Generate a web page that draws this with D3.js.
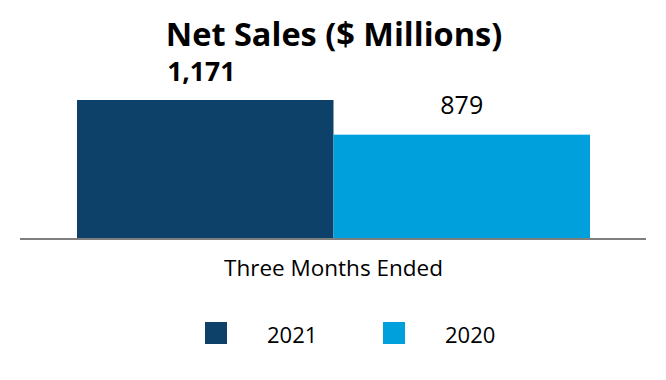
<!DOCTYPE html>
<html><head><meta charset="utf-8">
<script src="https://cdn.jsdelivr.net/npm/d3@7"></script>
<style>body{margin:0;background:#fff}svg{display:block;font-family:"Open Sans",sans-serif}</style>
</head><body><svg id="c" width="666" height="380"></svg>
<script>
const title = "Net Sales ($ Millions)";
const category = "Three Months Ended";
const seriesNames = ["2021", "2020"];
const seriesValues = [1171, 879];
const seriesLabels = ["1,171", "879"];
const seriesColors = ["#0e4169", "#00a0dc"];

const svg = d3.select("#c");
const x = d3.scaleBand().domain(seriesNames).range([77, 590]).paddingInner(0).paddingOuter(0);
const y = d3.scaleLinear().domain([0, 1171]).range([239, 100]);

svg.append("text").attr("x", 334).attr("y", 46).attr("text-anchor", "middle")
  .attr("font-size", 32.5).attr("font-weight", "bold").attr("fill", "#000").text(title);

svg.selectAll("rect.bar").data(seriesNames).enter().append("rect").attr("class","bar")
  .attr("x", d => x(d)).attr("width", x.bandwidth())
  .attr("y", (d,i) => y(seriesValues[i])).attr("height", (d,i) => y(0) - y(seriesValues[i]))
  .attr("fill", (d,i) => seriesColors[i]);

svg.selectAll("text.val").data(seriesNames).enter().append("text").attr("class","val")
  .attr("x", d => x(d) + x.bandwidth()/2 - (d==="2021"?4:0))
  .attr("y", (d,i) => y(seriesValues[i]) - (i===0 ? 19 : 21))
  .attr("text-anchor", "middle").attr("font-size", (d,i) => i===0 ? 26.5 : 25)
  .attr("font-weight", (d,i) => i===0 ? "bold" : "normal")
  .attr("fill", "#000").text((d,i) => seriesLabels[i]);

svg.append("line").attr("x1", 20).attr("x2", 646).attr("y1", 239).attr("y2", 239)
  .attr("stroke", "#7f7f7f").attr("stroke-width", 2);

svg.append("text").attr("x", 333.5).attr("y", 276).attr("text-anchor", "middle")
  .attr("font-size", 22.5).attr("fill", "#000").text(category);

const legX = [205, 383];
seriesNames.forEach((n, i) => {
  svg.append("rect").attr("x", legX[i]).attr("y", 322).attr("width", 22).attr("height", 22).attr("fill", seriesColors[i]);
  svg.append("text").attr("x", legX[i] + 62).attr("y", 343).attr("font-size", 22).attr("fill", "#000").text(n);
});
</script></body></html>
